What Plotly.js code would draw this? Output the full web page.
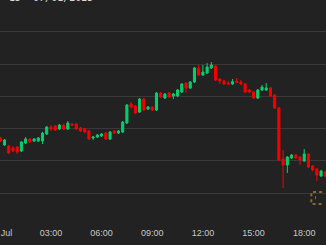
<!DOCTYPE html>
<html>
<head>
<meta charset="utf-8">
<script src="https://cdn.plot.ly/plotly-3.0.1.min.js"></script>
<style>
html,body{margin:0;padding:0;background:#222222;overflow:hidden;}
#chart{width:326px;height:245px;}
</style>
</head>
<body>
<div id="chart"></div>
<script>
// 15-minute candles, 2025-07-01 from 00:00 UTC
const startTime = '2025-07-01T00:00:00';
const intervalMinutes = 15;

const openPrices = [106353,106244,106229,106198,106213,106151,106275,106337,106306,106306,
  106306,106415,106523,106539,106492,106554,106492,106570,106570,106508,
  106492,106461,106353,106368,106384,106430,106337,106461,106430,106446,
  106585,106880,106849,106756,106957,106802,106833,106787,107050,106973,
  107050,107004,107004,107066,107205,107128,107221,107438,107329,107360,
  107438,107469,107267,107236,107205,107190,107236,107221,107190,107097,
  107066,106973,107097,107097,107128,107019,106818,106027,105934,106043,
  106089,106058,105996,106105,105919,105872,105764,105826];
const highPrices = [106368,106337,106244,106229,106229,106306,106368,106353,106353,106368,
  106446,106539,106554,106554,106570,106570,106616,106585,106585,106523,
  106508,106477,106384,106415,106430,106446,106461,106477,106477,106616,
  106880,106911,106864,106973,106973,106849,106849,107066,107066,107050,
  107066,107050,107112,107205,107221,107236,107453,107484,107484,107515,
  107531,107484,107283,107252,107236,107267,107283,107252,107205,107112,
  107081,107112,107174,107205,107143,107035,106833,106167,106074,106105,
  106105,106074,106182,106120,105934,105888,105857,105841];
const lowPrices = [106291,106229,106105,106136,106105,106136,106260,106275,106291,106291,
  106260,106399,106461,106461,106477,106477,106477,106539,106477,106446,
  106430,106322,106322,106353,106368,106322,106322,106415,106415,106430,
  106570,106802,106725,106740,106771,106787,106771,106771,106973,106957,
  106973,106957,106988,107050,107050,107112,107205,107314,107314,107345,
  107422,107236,107190,107174,107174,107174,107205,107174,107050,107050,
  106957,106957,107081,107081,106988,106802,105996,105578,105810,106027,
  106027,105934,105981,105888,105841,105686,105748,105748];
const closePrices = [106306,106322,106120,106151,106136,106291,106337,106291,106337,106353,
  106430,106523,106492,106477,106554,106492,106585,106554,106492,106461,
  106446,106337,106368,106399,106415,106337,106446,106430,106461,106601,
  106864,106833,106740,106957,106787,106833,106787,107050,106988,107035,
  106988,107035,107097,107190,107128,107221,107438,107329,107376,107453,
  107484,107252,107236,107190,107190,107226,107216,107190,107066,107066,
  106973,107097,107143,107128,107004,106818,106012,105934,106058,106089,
  106043,106012,106105,105903,105857,105779,105841,105764];

const tickTimes = ['2025-07-01 00:00','2025-07-01 03:00','2025-07-01 06:00','2025-07-01 09:00',
  '2025-07-01 12:00','2025-07-01 15:00','2025-07-01 18:00'];
const tickLabels = ['01 Jul','03:00','06:00','09:00','12:00','15:00','18:00'];
const headerText = '1D  07/01/2025';

function pad(n){return (n<10?'0':'')+n;}
const t0 = new Date(startTime + 'Z').getTime();
const times = openPrices.map((_, i) => {
  const d = new Date(t0 + i * intervalMinutes * 60000);
  return d.getUTCFullYear() + '-' + pad(d.getUTCMonth()+1) + '-' + pad(d.getUTCDate()) + ' ' +
         pad(d.getUTCHours()) + ':' + pad(d.getUTCMinutes());
});

const green = '#05cf6e';
const red = '#f60000';

const trace = {
  type: 'candlestick',
  x: times,
  open: openPrices,
  high: highPrices,
  low: lowPrices,
  close: closePrices,
  increasing: {line: {color: green, width: 1}, fillcolor: green},
  decreasing: {line: {color: red, width: 1}, fillcolor: red},
  whiskerwidth: 0,
  hoverinfo: 'none'
};

const gold = '#8a6a2a';
const layout = {
  width: 326,
  height: 245,
  margin: {l: 0, r: 0, t: 0, b: 19, pad: 0},
  paper_bgcolor: '#222222',
  plot_bgcolor: '#222222',
  showlegend: false,
  xaxis: {
    type: 'date',
    range: ['2025-06-30 23:59:00', '2025-07-01 19:17:25'],
    rangeslider: {visible: false},
    showgrid: false,
    zeroline: false,
    showline: false,
    ticks: '',
    tickmode: 'array',
    tickvals: tickTimes,
    ticktext: tickLabels,
    ticklabeloverflow: 'allow',
    tickfont: {family: 'Liberation Sans, Arial, sans-serif', size: 9, color: '#c8c8c8'},
    fixedrange: true
  },
  yaxis: {
    range: [104989, 108492],
    showticklabels: false,
    ticks: '',
    dtick: 500,
    tick0: 0,
    showgrid: true,
    gridcolor: '#393939',
    gridwidth: 1,
    zeroline: false,
    showline: false,
    fixedrange: true
  },
  annotations: [{
    xref: 'paper', yref: 'paper', x: 0.02, y: 1,
    xanchor: 'left', yanchor: 'bottom', yshift: -5,
    text: headerText, showarrow: false,
    font: {family: 'DejaVu Sans Mono, monospace', size: 10, color: '#d8d8d8'}
  }],
  shapes: [{
    type: 'path', xref: 'paper', yref: 'paper',
    path: 'M 0.988 0.150 L 0.955 0.150 L 0.955 0.097 L 0.988 0.097',
    line: {color: gold, width: 2, dash: 'dot'}
  }, {
    type: 'path', xref: 'paper', yref: 'paper',
    path: 'M 0.968 0.132 L 0.968 0.115',
    line: {color: gold, width: 1, dash: 'dot'}
  }]
};

Plotly.newPlot('chart', [trace], layout, {staticPlot: true, displayModeBar: false});
</script>
</body>
</html>
